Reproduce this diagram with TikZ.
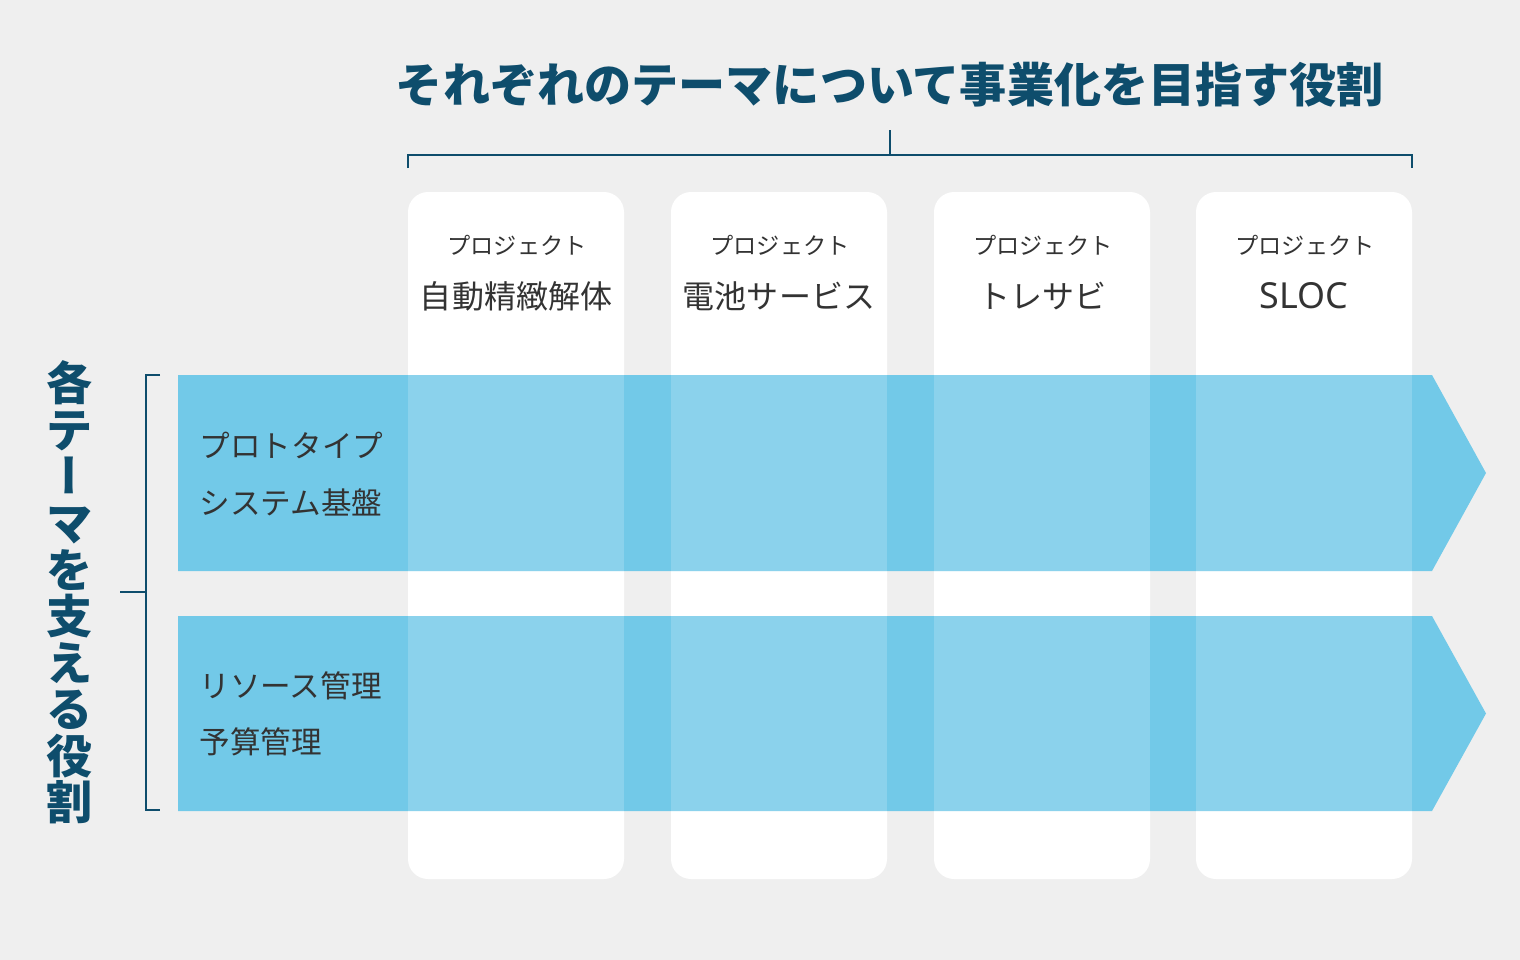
\documentclass[tikz,border=0pt]{standalone}
\usepackage{fontspec}
\setmainfont{Noto Sans CJK JP}
\newfontfamily\latinfont{Noto Sans}
\usetikzlibrary{positioning}
\definecolor{cbg}{HTML}{EFEFEF}
\definecolor{cnv}{HTML}{0E4D6C}
\definecolor{cab}{HTML}{72C9E8}
\definecolor{ctx}{HTML}{333333}
\tikzset{
    col/.style={fill=white, rounded corners=5.7pt},
    band/.style={fill=cab},
    brk/.style={draw=cnv, line width=0.6pt},
    proj/.style={text=ctx, inner sep=0pt, font=\fontsize{6.6}{7}\selectfont},
    pname/.style={text=ctx, inner sep=0pt, font=\fontsize{9.1}{10}\selectfont},
    row/.style={text=ctx, inner sep=0pt, anchor=west, font=\fontsize{8.7}{9}\selectfont},
    head/.style={text=cnv, inner sep=0pt, font=\bfseries\fontsize{13.4}{14}\selectfont}
}

\begin{document}
\begin{tikzpicture}[x=0.01cm, y=-0.01cm]
    \fill[cbg](0, 0) rectangle (1520, 960);
    % columns
    \foreach \x in {408, 671, 934, 1196}
        \fill[col](\x, 192) rectangle ++(216, 687);
    % bands
    \fill[band](178, 375)--(1432, 375)--(1486, 473)--(1432, 571)--(178, 571)--cycle;
    \fill[band](178, 616)--(1432, 616)--(1486, 713.5)--(1432, 811)--(178, 811)--cycle;
    \foreach \x in {408, 671, 934, 1196}
        \foreach \y in {375, 616}
            \fill[white, opacity=.18](\x, \y) rectangle ++(216, 195.5);
    % title and top bracket
    \node[head] (title) at (890, 85) {それぞれのテーマについて事業化を目指す役割};
    \coordinate (tt) at (890, 130);
    \draw[brk](408, 168)--(408, 155)--(1412, 155)--(1412, 168);
    \draw[brk](890, 155)--(tt);
    % left heading and bracket
    \node[head, align=center, font=\bfseries\fontsize{13.1}{13.23}\selectfont] (side) at (70, 592.5)
        {各\\テ\\{\addfontfeature{RawFeature=+vert}ー}\\マ\\を\\支\\え\\る\\役\\割};
    \coordinate (st) at (120, 592);
    \draw[brk](160, 375)--(146, 375)--(146, 810)--(160, 810);
    \draw[brk](146, 592)--(st);
    % projects
    \node[proj] (pa) at (517, 245) {プロジェクト};
    \node[pname] (na) at (516, 296) {自動精緻解体};
    \node[proj] (pb) at (780, 245) {プロジェクト};
    \node[pname] (nb) at (779, 296) {電池サービス};
    \node[proj] (pc) at (1043, 245) {プロジェクト};
    \node[pname] (nc) at (1042, 296) {トレサビ};
    \node[proj] (pd) at (1305, 245) {プロジェクト};
    \node[pname, font=\fontsize{10.2}{11}\selectfont] (nd) at (1304, 296) {\latinfont SLOC};
    % rows
    \node[row] (ra) at (199, 445) {プロトタイプ};
    \node[row] (rb) at (199, 502) {システム基盤};
    \node[row] (rc) at (199, 686) {リソース管理};
    \node[row] (rd) at (199, 742) {予算管理};
\end{tikzpicture}
\end{document}
